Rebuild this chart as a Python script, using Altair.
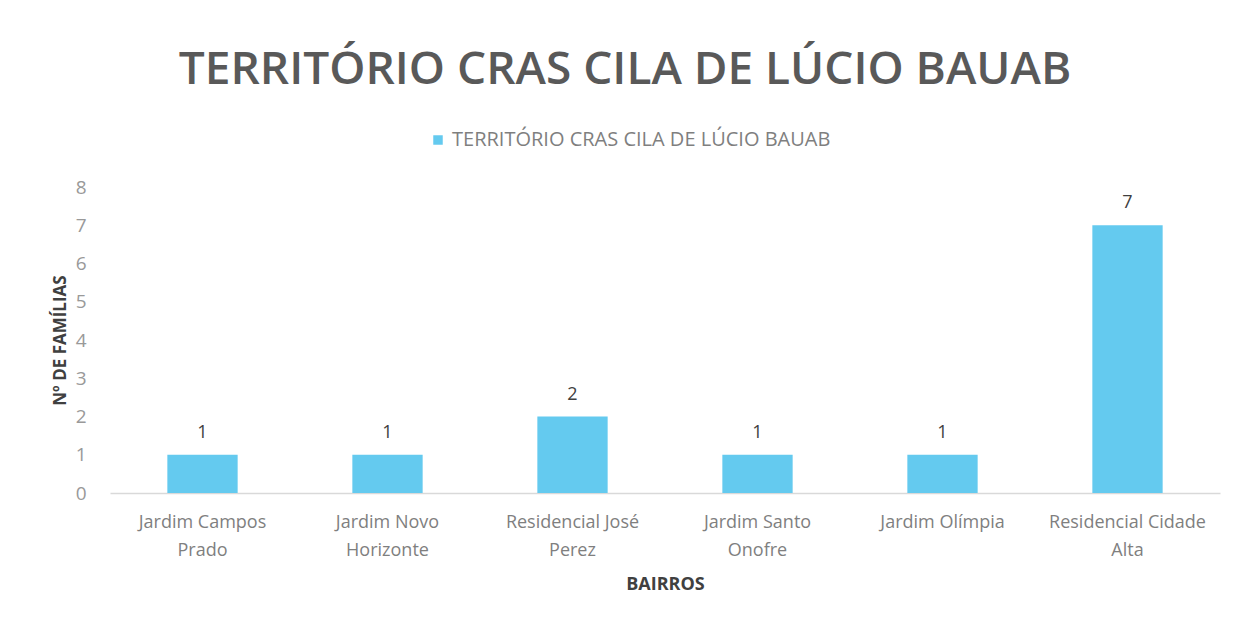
import altair as alt
import pandas as pd

bairros = ["Jardim Campos Prado", "Jardim Novo Horizonte", "Residencial José Perez",
           "Jardim Santo Onofre", "Jardim Olímpia", "Residencial Cidade Alta"]
familias = [1, 1, 2, 1, 1, 7]
line1 = ["Jardim Campos", "Jardim Novo", "Residencial José", "Jardim Santo", "Jardim Olímpia", "Residencial Cidade"]
line2 = ["Prado", "Horizonte", "Perez", "Onofre", "", "Alta"]
serie = "TERRITÓRIO CRAS CILA DE LÚCIO BAUAB"
y_ticks = list(range(0, 9))

df = pd.DataFrame({"bairro": bairros, "familias": familias, "serie": [serie] * len(bairros)})

parts = []
for b, a, c in zip(bairros, line1, line2):
    val = f"['{a}', '{c}']" if c else f"'{a}'"
    parts.append(f"datum.label == '{b}' ? {val}")
label_expr = " : ".join(parts) + " : datum.label"

FONT = "Open Sans"

base = alt.Chart(df).encode(
    x=alt.X("bairro:N", sort=bairros,
            scale=alt.Scale(paddingInner=0.62, paddingOuter=0.31),
            axis=alt.Axis(title="BAIRROS", labelExpr=label_expr, labelAngle=0,
                          labelFontSize=18, labelColor="#7f7f7f", labelFont=FONT,
                          labelLineHeight=28, labelPadding=20, labelBaseline="top",
                          labelLimit=400,
                          ticks=False, domainColor="#d9d9d9", domainWidth=1.5,
                          titleFont=FONT, titleFontSize=18, titleFontWeight="bold",
                          titleColor="#404040", titlePadding=16)),
    y=alt.Y("familias:Q", scale=alt.Scale(domain=[0, 8], nice=False),
            axis=alt.Axis(title="Nº DE FAMÍLIAS", values=y_ticks, grid=False,
                          domain=False, ticks=False, labelFontSize=19,
                          labelColor="#999999", labelFont=FONT, labelPadding=24,
                          titleFont=FONT, titleFontSize=17, titleFontWeight="bold",
                          titleColor="#404040", titlePadding=6)),
)

bars = base.mark_bar(color="#64caef").encode(
    color=alt.Color("serie:N", scale=alt.Scale(range=["#64caef"]),
                    legend=alt.Legend(title=None, orient="none", legendX=318, legendY=-57,
                                      symbolType="square", symbolSize=90,
                                      labelFont=FONT, labelFontSize=20, labelLimit=1000,
                                      labelOffset=4,
                                      labelColor="#7f7f7f", symbolStrokeWidth=0))
)
labels = base.mark_text(dy=-22, fontSize=18, color="#404040", font=FONT).encode(
    text=alt.Text("familias:Q")
)

chart = (bars + labels).properties(
    width=1110, height=306,
    title=alt.TitleParams(serie, font=FONT, fontSize=46, fontWeight=600,
                          color="#595959", anchor="middle", offset=36, dx=-40),
    padding={"left": 102, "top": 179, "right": 10, "bottom": 115},
    autosize=alt.AutoSizeParams(type="none"),
).configure_view(stroke=None).configure_title(
    limit=2000
)

chart.save("out.html", embed_options={"renderer": "svg", "actions": False})
